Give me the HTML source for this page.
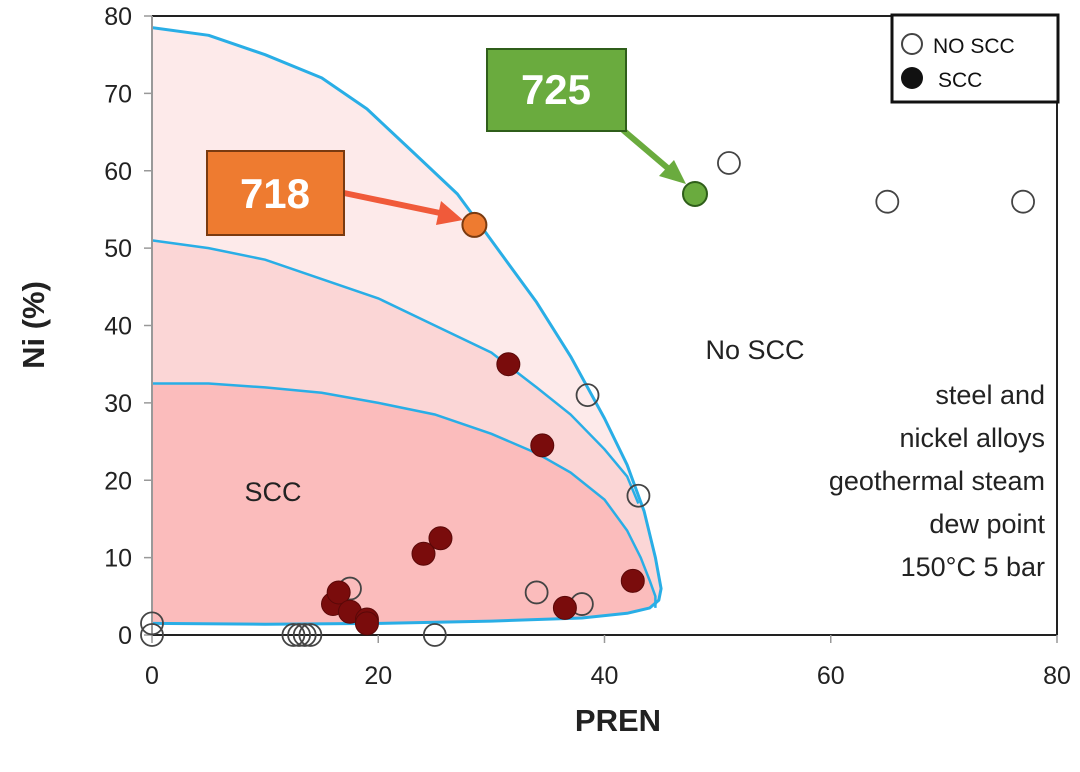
<!DOCTYPE html>
<html><head><meta charset="utf-8"><style>
html,body{margin:0;padding:0;background:#fff;}
svg{display:block;font-family:"Liberation Sans",Arial,sans-serif;}
</style></head><body>
<svg id="chart" width="1080" height="772" viewBox="0 0 1080 772">
<g id="regions"></g><g id="frame"></g><g id="points"></g>
<g>
<line x1="344" y1="193" x2="440" y2="213" stroke="#f05a3a" stroke-width="6"/>
<polygon points="463,220 436,225 441,201" fill="#f05a3a"/>
<rect x="207" y="151" width="137" height="84" fill="#ee7b30" stroke="#7a3a10" stroke-width="2"/>
<text x="275" y="208" font-size="42" font-weight="bold" fill="#fff" text-anchor="middle">718</text>
</g>
<g>
<line x1="623" y1="130" x2="670" y2="170" stroke="#6aab3e" stroke-width="6"/>
<polygon points="686,184 659,176 674,160" fill="#6aab3e"/>
<rect x="487" y="49" width="139" height="82" fill="#6aab3e" stroke="#2f5e1a" stroke-width="2"/>
<text x="556" y="104" font-size="42" font-weight="bold" fill="#fff" text-anchor="middle">725</text>
</g>
<g>
<rect x="892" y="15" width="166" height="87" fill="#fff" stroke="#111" stroke-width="3"/>
<circle cx="912" cy="44" r="10" fill="none" stroke="#444" stroke-width="2"/>
<text x="933" y="53" font-size="21" fill="#111">NO SCC</text>
<circle cx="912" cy="78" r="11" fill="#111"/>
<text x="938" y="87" font-size="21" fill="#111">SCC</text>
</g>
<text x="755" y="359" font-size="27" fill="#222" text-anchor="middle">No SCC</text>
<text x="273" y="501" font-size="27" fill="#222" text-anchor="middle">SCC</text>
<g font-size="27" fill="#222" text-anchor="end">
<text x="1045" y="404">steel and</text>
<text x="1045" y="447">nickel alloys</text>
<text x="1045" y="490">geothermal steam</text>
<text x="1045" y="533">dew point</text>
<text x="1045" y="576">150°C 5 bar</text>
</g>
<text x="618" y="731" font-size="31" font-weight="bold" fill="#222" text-anchor="middle">PREN</text>
<text x="0" y="0" font-size="31" font-weight="bold" fill="#222" text-anchor="middle" transform="translate(44,325) rotate(-90)">Ni (%)</text>
</svg>
<script>
const xTicks=[0,20,40,60,80];
const yTicks=[0,10,20,30,40,50,60,70,80];
const outerX=[0,5,10,15,19,23,27,29,31,34,37,40,42,43.5,44.5,45,44.8,44,42,38,30,20,10,0];
const outerY=[78.5,77.5,75,72,68,62.5,57,53,49,43,36,28,22,16,10,6,4.5,3.5,2.8,2.2,1.8,1.5,1.4,1.5];
const midX=[0,5,10,15,20,25,30,34,37,40,42,43];
const midY=[51,50,48.5,46,43.5,40,36.5,32,28.5,24,20.5,17];
const innerX=[0,5,10,15,20,25,30,34,37,40,42,43.2,44,44.5,44.5];
const innerY=[32.5,32.5,32,31.3,30,28.5,26,23.5,21,17.5,13.5,10,7,5,3.5];
const openX=[0,0,12.5,13,13.5,14,17.5,25,34,38,38.5,43,51,65,77];
const openY=[0,1.5,0,0,0,0,6,0,5.5,4,31,18,61,56,56];
const filledX=[16,16.5,17.5,19,19,24,25.5,31.5,34.5,36.5,42.5];
const filledY=[4,5.5,3,2,1.5,10.5,12.5,35,24.5,3.5,7];
const alloyLabels=["718","725"];
const alloyX=[28.5,48];
const alloyY=[53,57];

const X0=152,X1=1057,Y0=635,Y1=16;
const sx=v=>X0+(X1-X0)*v/80, sy=v=>Y0-(Y0-Y1)*v/80;
const NS="http://www.w3.org/2000/svg";
function mk(p,t,a){const e=document.createElementNS(NS,t);for(const k in a)e.setAttribute(k,a[k]);p.appendChild(e);return e;}
const R=document.getElementById('regions'),F=document.getElementById('frame'),P=document.getElementById('points');
function pathOf(xs,ys){return xs.map((x,i)=>(i?'L':'M')+sx(x).toFixed(1)+','+sy(ys[i]).toFixed(1)).join(' ');}
let o=mk(R,'path',{d:pathOf(outerX,outerY)+' Z',fill:'#fdeaea',stroke:'none'});


let m=mk(R,'path',{d:pathOf(midX.concat(outerX.slice(13)),midY.concat(outerY.slice(13)))+' Z',fill:'#fbd6d6',stroke:'none'});


let ir=mk(R,'path',{d:pathOf(innerX.concat(outerX.slice(16)),innerY.concat(outerY.slice(16)))+' Z',fill:'#fbbcbc',stroke:'none'});


let l1=mk(R,'path',{d:pathOf(outerX,outerY),fill:'none',stroke:'#29aee6','stroke-width':3,'stroke-linejoin':'round'});


let l2=mk(R,'path',{d:pathOf(midX,midY),fill:'none',stroke:'#29aee6','stroke-width':2.5});


let l3=mk(R,'path',{d:pathOf(innerX,innerY),fill:'none',stroke:'#29aee6','stroke-width':2.5});


mk(F,'line',{x1:X0,y1:Y1,x2:X1,y2:Y1,stroke:'#222','stroke-width':2});
mk(F,'line',{x1:X1,y1:Y1,x2:X1,y2:Y0,stroke:'#222','stroke-width':2});
mk(F,'line',{x1:X0,y1:Y0,x2:X1,y2:Y0,stroke:'#222','stroke-width':2});
mk(F,'line',{x1:X0,y1:Y1,x2:X0,y2:Y0,stroke:'#999','stroke-width':2});
xTicks.forEach(t=>{
  mk(F,'line',{x1:sx(t),y1:Y0,x2:sx(t),y2:Y0+8,stroke:'#999','stroke-width':1.5});
  let e=mk(F,'text',{x:sx(t),y:684,'font-size':25,'text-anchor':'middle',fill:'#222'});e.textContent=t;
  
  
});
yTicks.forEach(t=>{
  mk(F,'line',{x1:X0-8,y1:sy(t),x2:X0,y2:sy(t),stroke:'#999','stroke-width':1.5});
  let e=mk(F,'text',{x:132,y:sy(t)+9,'font-size':25,'text-anchor':'end',fill:'#222'});e.textContent=t;
  
  
});
openX.forEach((x,i)=>{
  let c=mk(P,'circle',{cx:sx(x),cy:sy(openY[i]),r:11,fill:'none',stroke:'#444','stroke-width':1.8});
  
  
});
filledX.forEach((x,i)=>{
  let c=mk(P,'circle',{cx:sx(x),cy:sy(filledY[i]),r:11.5,fill:'#7a0c0c',stroke:'#5a0808','stroke-width':1});
  
  
});
const alloyFill=['#ee7b30','#6aab3e'],alloyStroke=['#7a3a10','#2f5e1a'];
alloyX.forEach((x,i)=>{
  let c=mk(P,'circle',{cx:sx(x),cy:sy(alloyY[i]),r:12,fill:alloyFill[i],stroke:alloyStroke[i],'stroke-width':2});
  
  
});
</script>
</body></html>
